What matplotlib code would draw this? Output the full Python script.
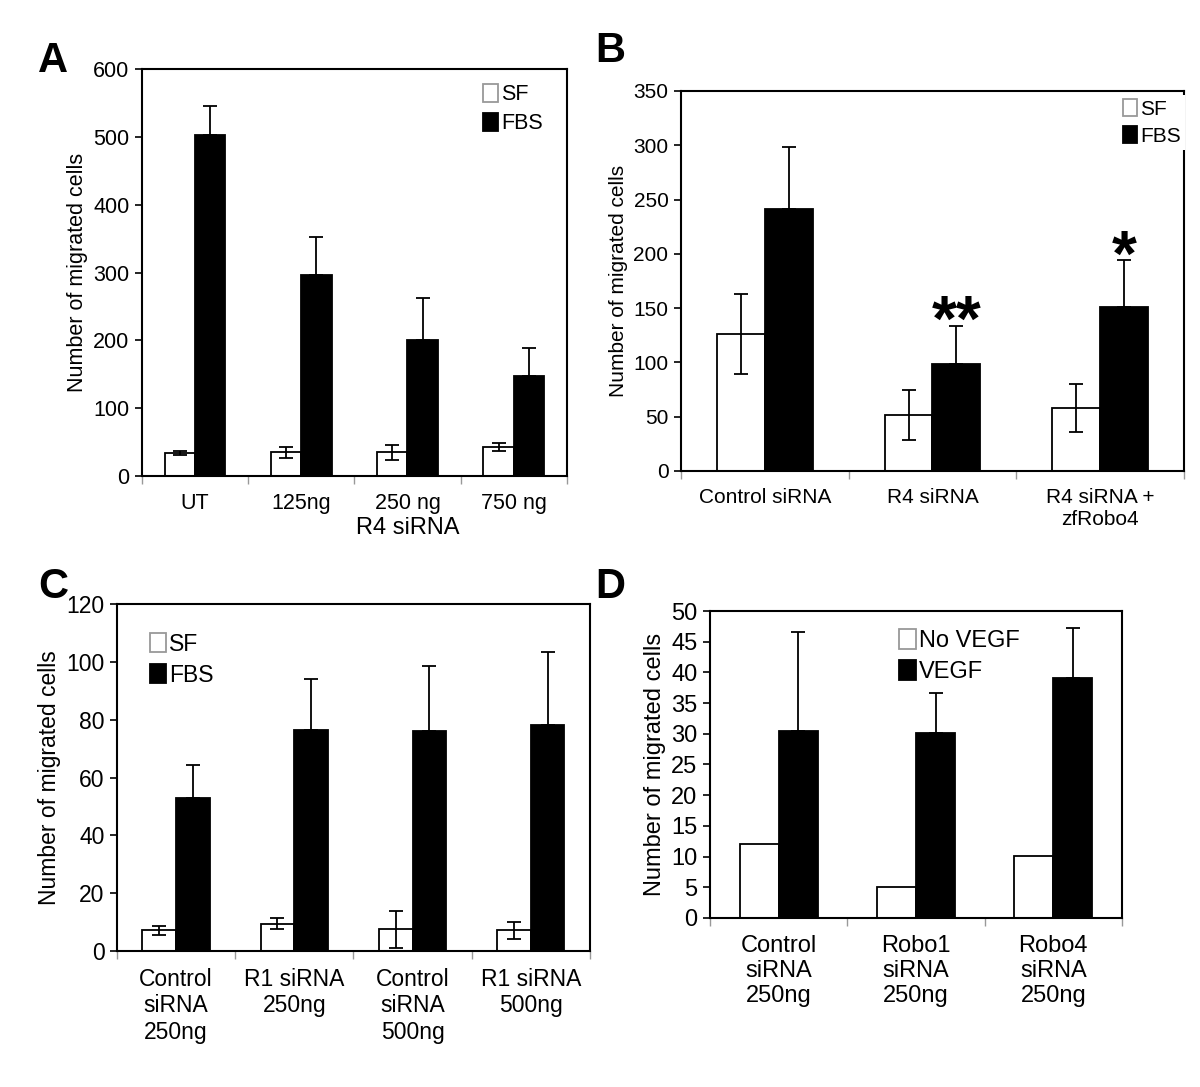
import numpy as np
import matplotlib.pyplot as plt

plt.rcParams['font.family'] = ['Liberation Sans', 'DejaVu Sans']

# Panel A
a_cats = ['UT', '125ng', '250 ng', '750 ng']
a_sf = [34, 35, 35, 43]
a_sf_err = [3, 8, 11, 6]
a_fbs = [502, 297, 201, 147]
a_fbs_err = [44, 56, 62, 41]

# Panel B
b_cats = ['Control siRNA', 'R4 siRNA', 'R4 siRNA +\nzfRobo4']
b_sf = [126, 52, 58]
b_sf_err = [37, 23, 22]
b_fbs = [241, 99, 151]
b_fbs_err = [57, 35, 43]
b_stars = ['', '**', '*']

# Panel C
c_cats = ['Control\nsiRNA\n250ng', 'R1 siRNA\n250ng', 'Control\nsiRNA\n500ng', 'R1 siRNA\n500ng']
c_sf = [7.1, 9.5, 7.5, 7.1]
c_sf_err = [1.4, 2.0, 6.3, 2.9]
c_fbs = [53, 76.6, 76.1, 78.2]
c_fbs_err = [11.2, 17.5, 22.5, 25.2]

# Panel D
d_cats = ['Control\nsiRNA\n250ng', 'Robo1\nsiRNA\n250ng', 'Robo4\nsiRNA\n250ng']
d_novegf = [12.0, 5.0, 10.1]
d_vegf = [30.4, 30.1, 39.1]
d_vegf_err = [16.2, 6.5, 8.1]


def panel(ax, cats, lo, hi, lo_err, hi_err, labels, ymax, ystep, fs, legloc, legbox, axpad=0.3):
    x = np.arange(len(cats))
    w = 0.285
    ax.bar(x - w / 2, lo, w, color='white', edgecolor='black', linewidth=1.3, label=labels[0], zorder=2)
    ax.bar(x + w / 2, hi, w, color='black', edgecolor='black', linewidth=1.3, label=labels[1], zorder=2)
    if lo_err is not None:
        ax.errorbar(x - w / 2, lo, yerr=lo_err, fmt='none', ecolor='black', elinewidth=1.3,
                    capsize=5, capthick=1.3, zorder=3)
    ax.errorbar(x + w / 2, hi, yerr=[np.zeros(len(hi)), hi_err], fmt='none', ecolor='black',
                elinewidth=1.3, capsize=5, capthick=1.3, zorder=3)
    ax.set_xlim(-0.5, len(cats) - 0.5)
    ax.set_ylim(0, ymax)
    ax.set_yticks(np.arange(0, ymax + ystep / 2, ystep))
    ax.set_xticks(x)
    ax.set_xticklabels(cats, fontsize=fs)
    ax.set_xticks(np.arange(-0.5, len(cats)), minor=True)
    ax.tick_params(axis='x', which='major', length=0, pad=12)
    ax.tick_params(axis='x', which='minor', length=6, width=1, color='0.6')
    ax.tick_params(axis='y', direction='out', length=5, width=1.2, labelsize=fs, pad=4)
    for s in ax.spines.values():
        s.set_linewidth(1.5)
    ax.set_ylabel('Number of migrated cells', fontsize=fs)
    leg = ax.legend(loc=legloc, bbox_to_anchor=legbox, frameon=True, facecolor='white',
                    edgecolor='none', framealpha=1, fancybox=False, fontsize=fs,
                    handlelength=0.7, handleheight=0.9, handletextpad=0.15,
                    labelspacing=0.35, borderaxespad=axpad, borderpad=0.2)
    leg.legend_handles[0].set_edgecolor('0.6')
    return x, w


fig = plt.figure(figsize=(12, 10.87), dpi=100)

axA = fig.add_axes([0.1183, 0.5621, 0.354, 0.3744])
panel(axA, a_cats, a_sf, a_fbs, a_sf_err, a_fbs_err, ['SF', 'FBS'], 600, 100, 15.5, 'upper right',
      (0.97, 0.99))
axA.set_xlabel('R4 siRNA', fontsize=17)
axA.xaxis.set_label_coords(0.626, -0.1)

axB = fig.add_axes([0.5675, 0.5667, 0.419, 0.3496])
xb, wb = panel(axB, b_cats, b_sf, b_fbs, b_sf_err, b_fbs_err, ['SF', 'FBS'], 350, 50, 15, 'upper right',
               (1.003, 0.99), axpad=0)
for i, s in enumerate(b_stars):
    if s:
        axB.text(xb[i] + wb / 2, b_fbs[i] + b_fbs_err[i] - 26, s, ha='center', va='bottom',
                 fontsize=46, fontweight='bold')

axC = fig.add_axes([0.0975, 0.1251, 0.394, 0.3192])
panel(axC, c_cats, c_sf, c_fbs, c_sf_err, c_fbs_err, ['SF', 'FBS'], 120, 20, 16.5, 'upper left',
      (0.045, 0.95))

axD = fig.add_axes([0.5917, 0.1555, 0.3433, 0.2824])
panel(axD, d_cats, d_novegf, d_vegf, None, d_vegf_err, ['No VEGF', 'VEGF'], 50, 5, 17, 'upper left',
      (0.43, 0.98))

for lab, (px, py) in zip('ABCD', [(38, 72), (595, 62), (38, 598), (595, 598)]):
    fig.text(px / 1200, 1 - py / 1087, lab, fontsize=30, fontweight='bold', ha='left', va='baseline')

fig.savefig('out.png', dpi=100)
